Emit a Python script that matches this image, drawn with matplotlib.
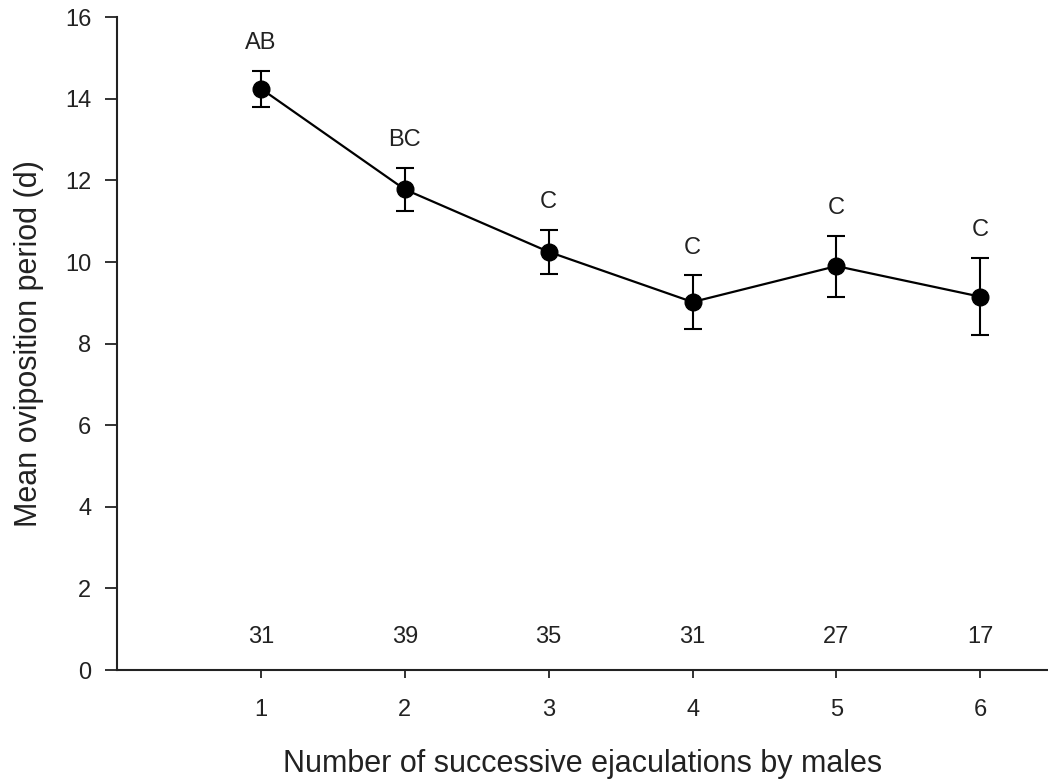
import matplotlib.pyplot as plt

plt.rcParams['font.family'] = ['Liberation Sans', 'DejaVu Sans']

# mean oviposition period per ejaculation number, with SE
ejaculations = [1, 2, 3, 4, 5, 6]
mean_period = [14.25, 11.78, 10.25, 9.02, 9.90, 9.15]
se_period = [0.44, 0.52, 0.54, 0.65, 0.75, 0.95]
letters = ['AB', 'BC', 'C', 'C', 'C', 'C']
n_females = [31, 39, 35, 31, 27, 17]

ink = '#222222'

fig = plt.figure(figsize=(10.48, 7.81), dpi=100)
ax = fig.add_axes([0.1116, 0.142, 0.8884, 0.836])

ax.errorbar(ejaculations, mean_period, yerr=se_period, fmt='o-', color='black',
            ms=12, lw=1.6, elinewidth=1.5, capsize=6.5, capthick=1.5, zorder=3)

# significance letters above each error bar
for x, m, s, lab in zip(ejaculations, mean_period, se_period, letters):
    ax.annotate(lab, (x, m + s), xytext=(0, 20), textcoords='offset points',
                ha='center', va='center', fontsize=17, color=ink)

# sample sizes along the bottom
for x, n in zip(ejaculations, n_females):
    ax.text(x, 0.8, str(n), ha='center', va='center', fontsize=17, color=ink)

ax.set_xlim(0, 6.47)
ax.set_ylim(0, 16)
ax.set_xticks(ejaculations)
ax.set_yticks(range(0, 17, 2))

ax.spines['top'].set_visible(False)
ax.spines['right'].set_visible(False)
for sp in ('left', 'bottom'):
    ax.spines[sp].set_linewidth(1.5)
    ax.spines[sp].set_color(ink)

ax.tick_params(axis='y', length=8.5, width=1.3, pad=10, labelsize=17, colors=ink)
ax.tick_params(axis='x', length=6, width=1.3, pad=15, labelsize=17, colors=ink)

ax.set_xlabel('Number of successive ejaculations by males', fontsize=22,
              color=ink, labelpad=20)
ax.set_ylabel('Mean oviposition period (d)', fontsize=22, color=ink, labelpad=15)

fig.savefig('out.png', dpi=100)
